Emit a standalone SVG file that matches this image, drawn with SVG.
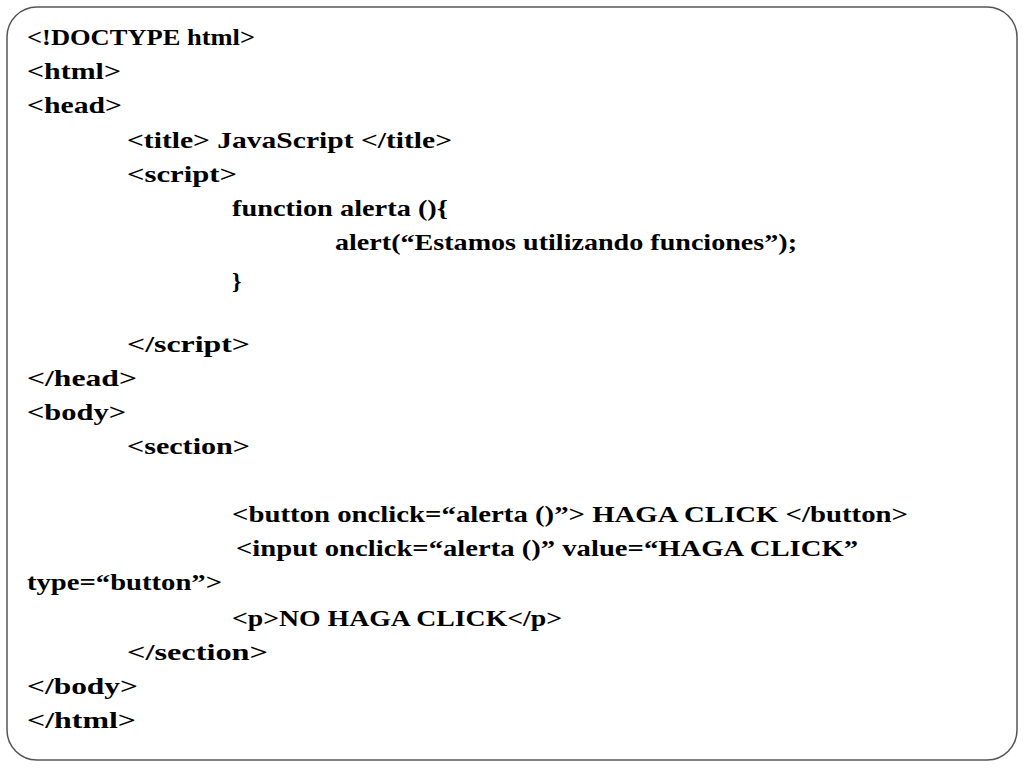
<svg xmlns="http://www.w3.org/2000/svg" width="1024" height="768" viewBox="0 0 1024 768">
<style>
text{font-family:"Liberation Serif",serif;font-weight:bold;font-size:24px;fill:#000}
</style>
<rect width="1024" height="768" fill="#fff"/>
<rect x="7" y="7" width="1010" height="753" rx="30" ry="30" fill="none" stroke="#555" stroke-width="1.5"/>
<g id="code">
<text x="27" y="45" textLength="228" lengthAdjust="spacingAndGlyphs">&lt;!DOCTYPE html&gt;</text>
<text x="27" y="79" textLength="94" lengthAdjust="spacingAndGlyphs">&lt;html&gt;</text>
<text x="27" y="113" textLength="95" lengthAdjust="spacingAndGlyphs">&lt;head&gt;</text>
<text x="127" y="148" textLength="325" lengthAdjust="spacingAndGlyphs">&lt;title&gt; JavaScript &lt;/title&gt;</text>
<text x="127" y="182" textLength="110" lengthAdjust="spacingAndGlyphs">&lt;script&gt;</text>
<text x="232" y="216" textLength="216" lengthAdjust="spacingAndGlyphs">function alerta (){</text>
<text x="335" y="250" textLength="462" lengthAdjust="spacingAndGlyphs">alert(“Estamos utilizando funciones”);</text>
<text x="232" y="289">}</text>
<text x="127" y="352" textLength="123" lengthAdjust="spacingAndGlyphs">&lt;/script&gt;</text>
<text x="27" y="386" textLength="110" lengthAdjust="spacingAndGlyphs">&lt;/head&gt;</text>
<text x="27" y="420" textLength="99" lengthAdjust="spacingAndGlyphs">&lt;body&gt;</text>
<text x="127" y="454" textLength="123" lengthAdjust="spacingAndGlyphs">&lt;section&gt;</text>
<text x="232" y="522" textLength="676" lengthAdjust="spacingAndGlyphs">&lt;button onclick=“alerta ()”&gt;  HAGA CLICK &lt;/button&gt;</text>
<text x="236" y="556" textLength="622" lengthAdjust="spacingAndGlyphs">&lt;input onclick=“alerta ()”  value=“HAGA CLICK”</text>
<text x="27" y="590" textLength="195" lengthAdjust="spacingAndGlyphs">type=“button”&gt;</text>
<text x="232" y="626" textLength="330" lengthAdjust="spacingAndGlyphs">&lt;p&gt;NO HAGA CLICK&lt;/p&gt;</text>
<text x="127" y="660" textLength="141" lengthAdjust="spacingAndGlyphs">&lt;/section&gt;</text>
<text x="27" y="694" textLength="111" lengthAdjust="spacingAndGlyphs">&lt;/body&gt;</text>
<text x="27" y="728" textLength="109" lengthAdjust="spacingAndGlyphs">&lt;/html&gt;</text>
</g>
</svg>
